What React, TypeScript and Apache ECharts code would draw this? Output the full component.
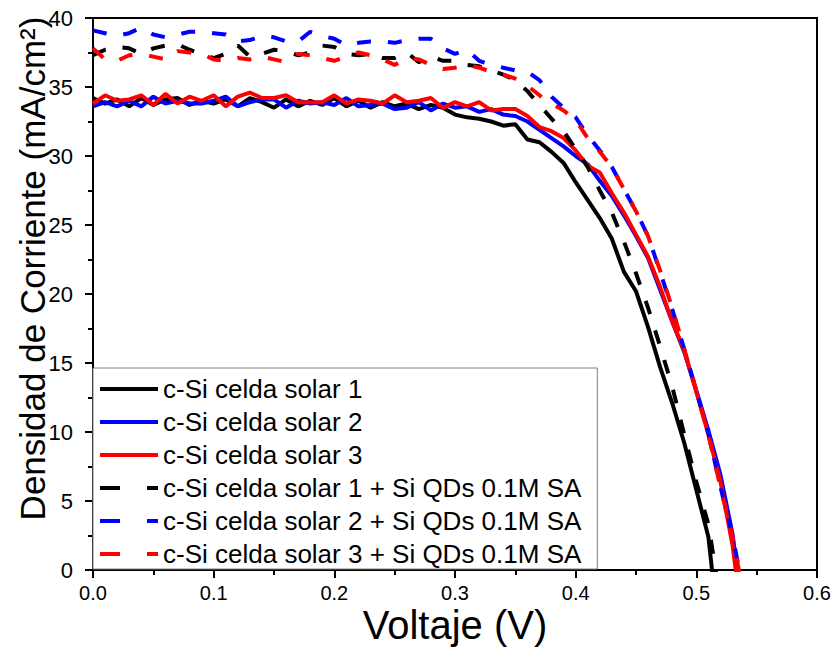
import React, { useEffect, useRef } from "react";
import * as echarts from "echarts";

// Voltage grid (V)
const voltage = [
  0.0, 0.01, 0.02, 0.03, 0.04, 0.05, 0.06, 0.07, 0.08, 0.09,
  0.1, 0.11, 0.12, 0.13, 0.14, 0.15, 0.16, 0.17, 0.18, 0.19,
  0.2, 0.21, 0.22, 0.23, 0.24, 0.25, 0.26, 0.27, 0.28, 0.29,
  0.3, 0.31, 0.32, 0.33, 0.34, 0.35, 0.36, 0.37, 0.38, 0.39,
  0.4, 0.41, 0.42, 0.43, 0.44, 0.45, 0.46, 0.47, 0.48, 0.49,
  0.5, 0.51, 0.52, 0.53, 0.54,
];

// Current density (mA/cm2)
const cell1 = [
  34.2, 33.8, 34.1, 33.6, 34.2, 33.7, 34.1, 34.2, 33.7, 34.0,
  33.8, 34.1, 33.6, 34.2, 33.9, 33.5, 34.1, 33.6, 34.0, 33.7,
  34.2, 33.6, 34.0, 33.5, 33.9, 33.6, 33.8, 33.4, 33.7, 33.5,
  33.0, 32.8, 32.7, 32.5, 32.2, 32.3, 31.2, 31.0, 30.3, 29.5,
  28.1, 26.8, 25.5, 24.0, 21.6, 20.2, 17.6, 14.7, 12.1, 9.2,
  5.8, 2.4, -5.6, null, null,
];
const cell2 = [
  33.6, 33.9, 33.6, 34.0, 33.6, 34.3, 33.8, 34.0, 33.8, 33.8,
  34.0, 34.3, 33.6, 33.9, 34.1, 34.1, 33.5, 34.0, 33.8, 33.9,
  33.7, 34.2, 33.6, 33.7, 33.8, 33.4, 33.5, 33.9, 33.3, 33.8,
  33.5, 33.6, 33.2, 33.4, 33.0, 32.9, 32.5, 31.9, 31.3, 30.7,
  30.0, 29.4, 28.2, 27.1, 25.7, 24.2, 22.6, 20.3, 18.0, 15.8,
  13.0, 10.1, 6.9, 2.6, -4.0,
];
const cell3 = [
  33.8, 34.4, 34.0, 34.1, 34.4, 33.7, 34.5, 33.8, 34.3, 34.0,
  34.4, 33.6, 34.3, 34.6, 34.2, 34.2, 34.4, 33.9, 33.9, 33.9,
  34.4, 33.8, 34.1, 34.0, 33.8, 34.4, 33.9, 34.0, 34.2, 33.5,
  33.9, 33.6, 33.9, 33.3, 33.4, 33.4, 32.9, 32.1, 31.8, 31.3,
  30.4, 29.3, 28.8, 27.3, 25.9, 24.3, 22.7, 20.5, 18.0, 15.9,
  12.9, 9.8, 6.4, 1.8, -5.0,
];
const cell1QD = [
  37.3, 37.7, 37.9, 37.8, 37.4, 37.8, 38.0, 38.1, 37.7, 37.4,
  37.1, 37.4, 38.0, 37.2, 37.4, 37.7, 37.6, 37.3, 37.5, 38.0,
  37.9, 37.4, 37.3, 37.4, 37.1, 37.1, 37.5, 36.8, 37.2, 36.9,
  36.9, 36.6, 36.5, 36.2, 35.9, 35.5, 34.7, 33.7, 32.7, 31.8,
  30.5, 29.2, 27.5, 25.9, 23.8, 21.5, 19.0, 16.2, 13.3, 9.8,
  6.4, 3.3, -2.2, null, null,
];
const cell2QD = [
  39.1, 38.9, 38.7, 38.9, 39.3, 38.8, 38.6, 38.8, 39.0, 39.0,
  38.9, 38.8, 38.3, 38.4, 38.7, 38.6, 38.3, 38.3, 39.0, 38.7,
  38.5, 38.0, 38.2, 38.3, 38.3, 38.2, 38.4, 38.5, 38.5, 37.8,
  37.4, 37.7, 36.9, 36.6, 36.4, 36.2, 36.1, 35.5, 34.3, 33.5,
  32.8, 31.5, 30.4, 29.2, 27.6, 26.0, 24.2, 21.6, 18.9, 16.0,
  13.0, 9.9, 6.0, 2.5, -2.0,
];
const cell3QD = [
  37.8, 37.0, 36.9, 37.3, 37.4, 37.2, 37.0, 37.6, 37.5, 37.4,
  37.0, 36.9, 37.1, 37.0, 37.2, 37.0, 36.8, 37.4, 37.3, 37.1,
  36.9, 37.2, 37.5, 37.3, 37.0, 36.6, 37.1, 37.0, 36.6, 36.3,
  36.4, 36.6, 36.4, 36.1, 35.9, 35.6, 35.1, 34.4, 33.8, 33.3,
  32.6, 31.3, 30.3, 29.2, 27.6, 26.0, 24.2, 21.7, 19.0, 16.0,
  13.0, 9.8, 6.0, 2.4, -2.2,
];

const seriesNames = [
  "c-Si celda solar 1",
  "c-Si celda solar 2",
  "c-Si celda solar 3",
  "c-Si celda solar 1 + Si QDs 0.1M SA",
  "c-Si celda solar 2 + Si QDs 0.1M SA",
  "c-Si celda solar 3 + Si QDs 0.1M SA",
];
const seriesValues = [cell1, cell2, cell3, cell1QD, cell2QD, cell3QD];
const seriesColors = ["#000000", "#0000ff", "#ff0000", "#000000", "#0000ff", "#ff0000"];
const seriesDashed = [false, false, false, true, true, true];

const xAxisTitle = "Voltaje (V)";
const yAxisTitle = "Densidad de Corriente (mA/cm²)";

const FONT = "'Liberation Sans', Arial, Helvetica, sans-serif";

export default function App() {
  const ref = useRef<HTMLDivElement>(null);

  useEffect(() => {
    if (!ref.current) return;
    const chart = echarts.init(ref.current, undefined, { renderer: "svg" });

    const series = seriesNames.map((name, i) => ({
      name,
      type: "line",
      data: voltage
        .map((v, k) => [v, seriesValues[i][k]])
        .filter((p) => p[1] !== null),
      showSymbol: false,
      symbol: "none",
      clip: true,
      z: 2 + i,
      lineStyle: {
        color: seriesColors[i],
        width: 4,
        type: seriesDashed[i] ? [14, 17] : "solid",
      },
      itemStyle: { color: seriesColors[i] },
    }));

    const option: any = {
      animation: false,
      backgroundColor: "#ffffff",
      grid: {
        left: 93,
        right: 16,
        top: 18,
        bottom: 80,
        containLabel: false,
        outerBoundsMode: "none",
        show: true,
        borderColor: "#000",
        borderWidth: 2,
        backgroundColor: "transparent",
      },
      legend: {
        orient: "vertical",
        left: 93,
        top: 368,
        itemWidth: 58,
        itemHeight: 14,
        itemGap: 7,
        padding: [8, 16, 2, 5],
        borderColor: "#808080",
        borderWidth: 1,
        backgroundColor: "#ffffff",
        selectedMode: false,
        itemStyle: { opacity: 0 },
        textStyle: { fontSize: 26, color: "#000", fontFamily: FONT },
        data: seriesNames.map((name, i) => ({
          name,
          itemStyle: { opacity: 0 },
          lineStyle: seriesDashed[i]
            ? { type: [20, 27], width: 4, color: seriesColors[i], opacity: 1 }
            : { type: "solid", width: 4, color: seriesColors[i], opacity: 1 },
        })),
      },
      xAxis: {
        type: "value",
        min: 0,
        max: 0.6,
        interval: 0.1,
        name: xAxisTitle,
        nameLocation: "middle",
        nameGap: 37,
        nameMoveOverlap: false,
        nameTextStyle: {
          fontSize: 40,
          lineHeight: 35,
          color: "#000",
          fontFamily: FONT,
        },
        axisLine: { show: true, onZero: false, lineStyle: { color: "#000", width: 2 } },
        axisTick: { show: true, inside: false, length: 8, lineStyle: { color: "#000", width: 2 } },
        minorTick: { show: true, splitNumber: 2, length: 5, lineStyle: { color: "#000", width: 2 } },
        splitLine: { show: false },
        minorSplitLine: { show: false },
        axisLabel: {
          fontSize: 20,
          color: "#000",
          fontFamily: FONT,
          margin: 13,
          formatter: (v: number) => v.toFixed(1),
        },
      },
      yAxis: {
        type: "value",
        min: 0,
        max: 40,
        interval: 5,
        name: yAxisTitle,
        nameLocation: "middle",
        nameGap: 43,
        nameMoveOverlap: false,
        nameTextStyle: {
          fontSize: 35,
          color: "#000",
          fontFamily: FONT,
          padding: [0, 0, 0, 51],
        },
        axisLine: { show: true, onZero: false, lineStyle: { color: "#000", width: 2 } },
        axisTick: { show: true, inside: false, length: 8, lineStyle: { color: "#000", width: 2 } },
        minorTick: { show: true, splitNumber: 2, length: 5, lineStyle: { color: "#000", width: 2 } },
        splitLine: { show: false },
        minorSplitLine: { show: false },
        axisLabel: { fontSize: 22, color: "#000", fontFamily: FONT, margin: 20 },
      },
      series,
    };

    chart.setOption(option);
    return () => chart.dispose();
  }, []);

  return (
    <div
      ref={ref}
      style={{ position: "absolute", left: 0, top: 0, width: 833, height: 650, background: "#fff" }}
    />
  );
}
